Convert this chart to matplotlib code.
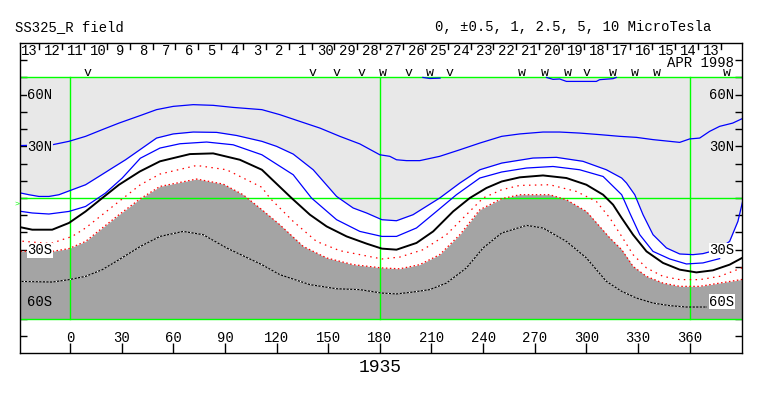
import numpy as np
import matplotlib
matplotlib.use('Agg')
from matplotlib import pyplot as plt

plt.rcParams['font.family'] = 'Liberation Mono'
plt.rcParams['font.size'] = 10

# field contours, longitude / latitude
lon_a = [-31, -10.3, -0.6, 9.1, 18.8, 28.5, 41.2, 50.3, 60.0, 71.6, 83.2, 94.8, 111.5, 121.9,
         133.5, 145.2, 156.8, 168.4, 180.0, 185.8, 189.7, 195.5, 203.2, 214.8, 226.5, 238.1,
         250.8, 261.3, 274.8, 284.5, 296.1, 307.7, 319.4, 329.1, 338.7, 348.4, 354.2, 360.0,
         365.8, 371.6, 377.4, 385.0, 391]
lat_a = [30.4, 30.9, 32.9, 35.8, 39.7, 43.5, 48.0, 51.3, 53.2, 54.2, 53.8, 52.6, 51.3, 48.4,
         44.5, 40.6, 35.8, 31.4, 25.1, 24.2, 22.2, 21.7, 21.7, 24.2, 28.0, 31.9,
         35.8, 37.2, 38.3, 38.3, 37.7, 36.8, 35.8, 35.2, 33.9, 32.9, 32.3, 34.3,
         34.8, 38.7, 41.6, 43.5, 46.3]

lon_a2 = [276.8, 280.6, 284.5, 288.4, 305.8, 307.7, 315.5, 317.4]
lat_a2 = [70.0, 68.9, 69.1, 67.7, 67.7, 68.7, 69.3, 70.0]
lon_a3 = [205, 209, 215]
lat_a3 = [70.0, 69.4, 69.6]

lon_b1 = [-31, -23.8, -18.0, -12.2, -6.4, 1.3, 9.1, 16.8, 24.6, 32.3, 40.6, 50.3, 60.0, 71.6,
          85.2, 96.8, 111.5, 120.0, 129.7, 141.3, 154.9, 164.5, 172.3, 181.2, 189.7, 199.3,
          214.8, 226.5, 238.1, 250.9, 269.0, 282.6, 298.0, 311.6, 320.5, 323.3, 328.1, 332.9,
          338.7, 346.5, 354.2, 361.9, 367.7, 376.3, 383.2, 388.0, 391]
lat_b1 = [3.4, 1.9, 0.9, 0.9, 1.9, 4.8, 7.7, 12.5, 17.4, 22.2, 28.0, 34.8, 37.2, 38.3,
          38.1, 36.3, 32.9, 30.0, 25.5, 16.4, 0.9, -5.8, -8.7, -12.6, -13.2, -9.7,
          0.0, 8.7, 16.4, 20.3, 23.2, 23.6, 21.3, 16.4, 11.6, 8.7, 1.9, -9.7,
          -21.3, -29.0, -32.5, -32.9, -32.3, -30.0, -25.2, -13.6, -1.0]

lon_b2 = [-31, -21.9, -12.2, -0.6, 9.1, 20.7, 30.4, 40.9, 52.3, 63.9, 79.4, 94.8, 111.5,
          129.7, 140.3, 154.9, 168.4, 181.2, 189.7, 201.3, 212.9, 224.5, 238.1, 250.8, 265.2,
          280.6, 296.1, 309.7, 320.5, 325.2, 331.0, 338.7, 348.4, 358.1, 367.7, 377.4]
lat_b2 = [-7.4, -8.7, -9.3, -7.8, -4.9, 2.9, 11.6, 23.1, 29.0, 31.5, 32.5, 30.9, 25.1,
          13.5, 0.0, -12.6, -19.4, -22.3, -22.3, -17.4, -7.8, 1.9, 11.6, 15.1, 17.4,
          18.3, 16.4, 12.5, 1.9, -8.7, -21.3, -31.0, -35.4, -38.3, -37.7, -35.2]

lon_k = [-31, -21.9, -10.3, -0.6, 9.1, 18.8, 28.5, 40.6, 52.3, 69.7, 83.2, 98.7, 111.5,
         128.7, 139.4, 149.1, 160.7, 172.3, 181.2, 189.7, 201.3, 211.0, 222.6, 232.3, 241.9,
         250.8, 261.3, 274.8, 288.4, 300.0, 309.7, 315.5, 320.5, 327.1, 334.9, 344.5, 354.2,
         363.9, 373.5, 383.2, 391]
lat_k = [-16.5, -18.4, -18.4, -14.5, -7.8, 0.0, 7.7, 15.4, 21.3, 25.5, 25.9, 22.2, 16.4,
         0.0, -9.7, -16.5, -22.3, -26.5, -29.4, -30.0, -26.1, -19.4, -7.8, 0.0, 5.8,
         9.6, 12.0, 13.1, 11.6, 7.7, 1.9, -3.9, -11.6, -21.3, -31.0, -37.7, -41.6,
         -43.2, -42.0, -38.7, -34.5]

lon_r1 = [-31, -11.2, -4.5, 1.3, 9.1, 18.8, 28.5, 40.9, 52.3, 73.6, 91.0, 111.5, 116.1,
          129.7, 143.2, 156.8, 181.2, 191.6, 205.2, 218.7, 230.3, 240.0, 250.8, 261.3, 278.7,
          294.2, 305.8, 313.6, 320.5, 327.1, 334.9, 344.5, 354.2, 365.8, 377.4, 391]
lat_r1 = [-24.8, -26.5, -24.2, -22.3, -17.4, -9.7, -2.0, 7.7, 13.9, 18.9, 16.4, 6.2, 0.0,
          -13.6, -25.2, -30.6, -35.4, -34.3, -30.0, -21.3, -9.7, 0.0, 4.8, 7.3, 7.7,
          3.8, -2.0, -11.6, -22.3, -32.9, -40.6, -45.5, -47.4, -47.4, -45.5, -40.3]

lon_r2 = [-31, -10.3, -0.6, 9.1, 18.8, 28.5, 40.9, 52.3, 73.6, 89.0, 100.6, 111.5, 121.9,
          135.5, 149.1, 164.5, 181.2, 191.6, 203.2, 214.8, 226.5, 238.1, 250.8, 261.3, 278.7,
          288.4, 300.0, 307.7, 313.6, 320.5, 327.1, 334.9, 344.5, 354.2, 365.8, 377.4, 391]
lat_r2 = [-30.9, -31.0, -29.4, -25.2, -17.4, -9.7, -0.4, 6.7, 11.0, 8.1, 1.9, -6.8, -15.5,
          -28.1, -34.8, -38.7, -40.6, -41.1, -38.7, -32.9, -21.3, -6.8, -0.4, 1.9, 1.9,
          -1.0, -7.8, -16.5, -23.2, -30.0, -39.7, -45.5, -49.4, -51.3, -51.3, -49.4, -47.2]

lon_d = [-31, -10.3, -0.6, 9.1, 18.8, 28.5, 40.9, 52.3, 65.8, 77.4, 91.0, 111.5, 121.9,
         139.4, 154.9, 168.4, 181.2, 189.7, 199.3, 209.0, 218.7, 230.3, 240.0, 250.8, 265.2,
         274.8, 288.4, 300.0, 311.6, 320.5, 329.1, 338.7, 348.4, 358.1, 369.7]
lat_d = [-48.4, -48.8, -47.4, -45.5, -41.6, -35.8, -28.1, -22.3, -19.4, -21.3, -29.0, -38.7, -44.5,
         -50.3, -52.7, -53.2, -55.2, -55.7, -54.6, -53.2, -49.4, -40.6, -29.0, -20.3, -15.9,
         -17.4, -25.2, -34.8, -48.4, -54.2, -58.1, -61.0, -62.5, -63.3, -63.3]

# top strip
day_labels = ['13', '12', '11', '10', '9', '8', '7', '6', '5', '4', '3', '2', '1', '30', '29', '28',
              '27', '26', '25', '24', '23', '22', '21', '20', '19', '18', '17', '16', '15', '14', '13']
day_first = -18.0
day_step = 13.2
mark_lon = [10.5, 141.1, 155.0, 169.6, 181.7, 196.8, 209.0, 220.6, 262.5, 275.8, 289.2, 300.2,
            315.3, 328.1, 340.9, 381.5]
mark_txt = ['v', 'v', 'v', 'v', 'w', 'v', 'w', 'v', 'w', 'w', 'w', 'v', 'w', 'w', 'w', 'w']

lat_ticks = [60, 30, -30, -60]
lat_names = ['60N', '30N', '30S', '60S']
lon_ticks = list(range(0, 361, 30))

LIGHT = '#e8e8e8'
DARK = '#a4a4a4'

fig = plt.figure(figsize=(7.63, 3.96), dpi=100)
ax = fig.add_axes([19.5 / 763, 43 / 396, 722 / 763, 310 / 396])
ax.set_xlim(-29.3, 390.1)
ax.set_ylim(-90, 90)

ax.fill_between([-40, 400], -70, 70, color=LIGHT, lw=0, zorder=0)
ax.fill_between(lon_b1, lat_b1, -70, color='white', lw=0, zorder=1)
ax.fill_between(lon_r2, lat_r2, -70, color=DARK, lw=0, zorder=2)

# green frame lines
for la in (70, 0, -70):
    ax.axhline(la, color='#00ff00', lw=1, zorder=3)
for lo in (0, 180, 360):
    ax.plot([lo, lo], [-70, 70], color='#00ff00', lw=1, zorder=3)

ax.plot(lon_a, lat_a, color='blue', lw=0.9, zorder=4)
ax.plot(lon_a2, lat_a2, color='blue', lw=0.9, zorder=4)
ax.plot(lon_a3, lat_a3, color='blue', lw=0.9, zorder=4)
ax.plot(lon_b1, lat_b1, color='blue', lw=0.9, zorder=4)
ax.plot(lon_b2, lat_b2, color='blue', lw=0.9, zorder=4)
ax.plot(lon_k, lat_k, color='black', lw=1.4, zorder=4)
ax.plot(lon_r1, lat_r1, color='red', lw=0.9, ls=(0, (1.2, 3.5)), zorder=4)
ax.plot(lon_r2, lat_r2, color='red', lw=0.9, ls=(0, (1.2, 2.0)), zorder=4)
ax.plot(lon_d, lat_d, color='black', lw=0.8, zorder=4)
ax.plot(lon_d, lat_d, color='white', lw=0.8, ls=(0, (1.2, 2.0)), zorder=4)

# ticks
ax.set_xticks(lon_ticks)
ax.set_xticklabels([])
ax.set_yticks(range(-80, 81, 10))
ax.set_yticklabels([])
ax.tick_params(axis='x', direction='in', length=7, width=1, bottom=True, top=False)
ax.tick_params(axis='y', direction='in', length=5, width=1, left=True, right=True)
for s in ax.spines.values():
    s.set_linewidth(1)
    s.set_zorder(6)

for lo in lon_ticks:
    ax.text(lo, -83.5, str(lo), ha='center', va='baseline', zorder=6)

for la, name in zip(lat_ticks, lat_names):
    bg = LIGHT if la > 0 else 'white'
    ax.text(-24.7, la - 2.6, name, ha='left', va='baseline', zorder=5,
            bbox=dict(facecolor=bg if la != -60 else DARK, edgecolor='none', pad=0.3))
    ax.text(385.9, la - 2.6, name, ha='right', va='baseline', zorder=5,
            bbox=dict(facecolor=bg, edgecolor='none', pad=0.3))

# day strip
for i, d in enumerate(day_labels):
    sep = day_first + i * day_step
    ax.plot([sep, sep], [86.5, 90], color='black', lw=1, zorder=6)
    ax.text(sep - 5.4, 83.1, d, ha='center', va='baseline', zorder=6)
for lo, t in zip(mark_lon, mark_txt):
    ax.text(lo, 70.9, t, ha='center', va='baseline', fontsize=9.5, zorder=6)
ax.text(386.0, 76.3, 'APR 1998', ha='right', va='baseline')

fig.text(15 / 763, 1 - 31.5 / 396, 'SS325_R field', ha='left', va='baseline')
fig.text(711 / 763, 1 - 31.5 / 396, '0, \u00b10.5, 1, 2.5, 5, 10 MicroTesla', ha='right', va='baseline')
fig.text(380 / 763, 1 - 372 / 396, '1935', ha='center', va='baseline', fontsize=13)
fig.text(17 / 763, 1 - 206 / 396, '>', ha='center', va='baseline', fontsize=6, color='#00ff00')

fig.savefig('out.png', dpi=100)
